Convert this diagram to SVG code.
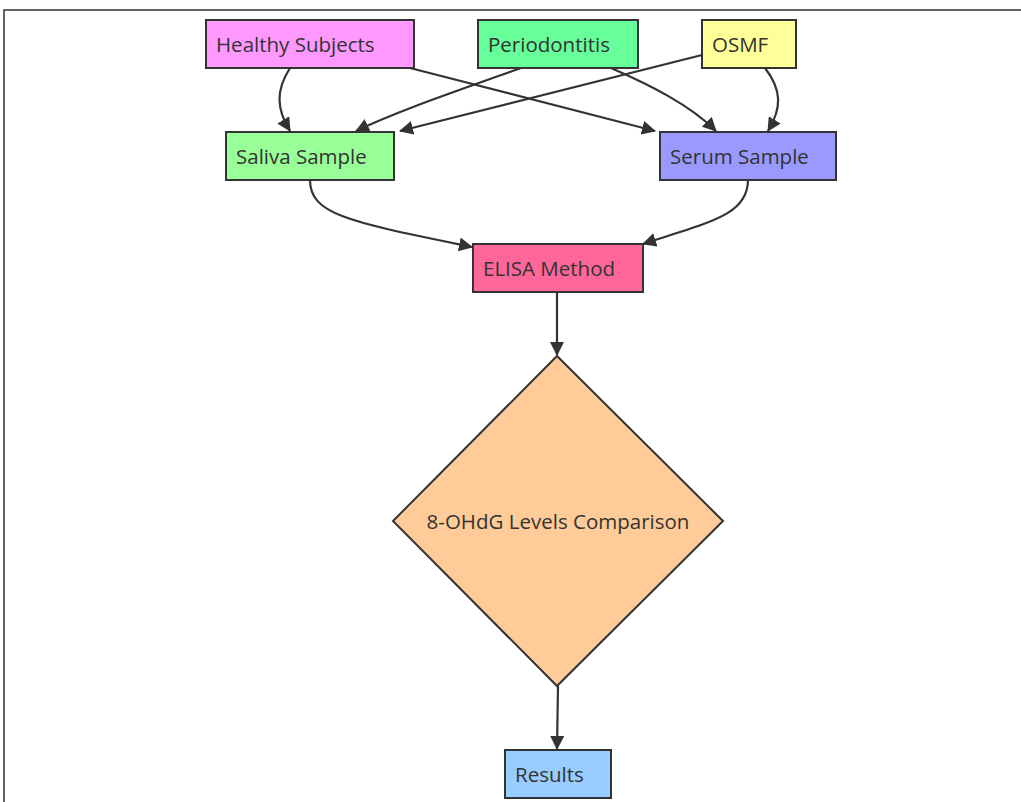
<svg xmlns="http://www.w3.org/2000/svg" width="1021" height="802" viewBox="0 0 1021 802">
<defs>
<style>
.n{stroke:#333;stroke-width:2}
.t{font-family:"Open Sans","Noto Sans",sans-serif;font-size:20.5px;fill:#333}
.e{fill:none;stroke:#333;stroke-width:2.2}
</style>
<marker id="ah" viewBox="0 0 14 14" refX="13" refY="7" markerWidth="14" markerHeight="14" markerUnits="userSpaceOnUse" orient="auto">
<path d="M0,0 L14,7 L0,14 z" fill="#333"/>
</marker>
</defs>
<rect width="1021" height="802" fill="#fff"/>
<path d="M4,802 V10 H1021" fill="none" stroke="#333" stroke-width="1.5"/>
<g id="connectors">
<path class="e" marker-end="url(#ah)" d="M290,68 C276,90 276,108 290,131"/>
<path class="e" marker-end="url(#ah)" d="M410,68 L655,131"/>
<path class="e" marker-end="url(#ah)" d="M521,68 C460,90 400,110 356,131"/>
<path class="e" marker-end="url(#ah)" d="M611,68 C650,85 690,105 716,131"/>
<path class="e" marker-end="url(#ah)" d="M702,55 L400,131"/>
<path class="e" marker-end="url(#ah)" d="M765,68 C782,90 782,108 768,131"/>
<path class="e" marker-end="url(#ah)" d="M310,180 C310,215 350,222 472,247"/>
<path class="e" marker-end="url(#ah)" d="M748,180 C748,215 710,222 643,244"/>
<path class="e" marker-end="url(#ah)" d="M557,292 L557,355"/>
<path class="e" marker-end="url(#ah)" d="M558,686 L557,749"/>
</g>
<g id="healthy"><rect class="n" x="206" y="20" width="208" height="48" fill="#ff99ff"/><text class="t" x="216" y="52">Healthy Subjects</text></g>
<g id="periodontitis"><rect class="n" x="478" y="20" width="160" height="48" fill="#66ff99"/><text class="t" x="488" y="52">Periodontitis</text></g>
<g id="osmf"><rect class="n" x="702" y="20" width="94" height="48" fill="#ffff99"/><text class="t" x="712" y="52">OSMF</text></g>
<g id="saliva"><rect class="n" x="226" y="132" width="168" height="48" fill="#99ff99"/><text class="t" x="236" y="164">Saliva Sample</text></g>
<g id="serum"><rect class="n" x="660" y="132" width="176" height="48" fill="#9999ff"/><text class="t" x="670" y="164">Serum Sample</text></g>
<g id="elisa"><rect class="n" x="473" y="244" width="170" height="48" fill="#ff6699"/><text class="t" x="483" y="276">ELISA Method</text></g>
<g id="comparison"><polygon class="n" points="557,356 723,521 557,686 393,521" fill="#ffcc99"/><text class="t" x="558" y="529" text-anchor="middle">8-OHdG Levels Comparison</text></g>
<g id="results"><rect class="n" x="505" y="750" width="106" height="48" fill="#99ccff"/><text class="t" x="515" y="782">Results</text></g>
</svg>
